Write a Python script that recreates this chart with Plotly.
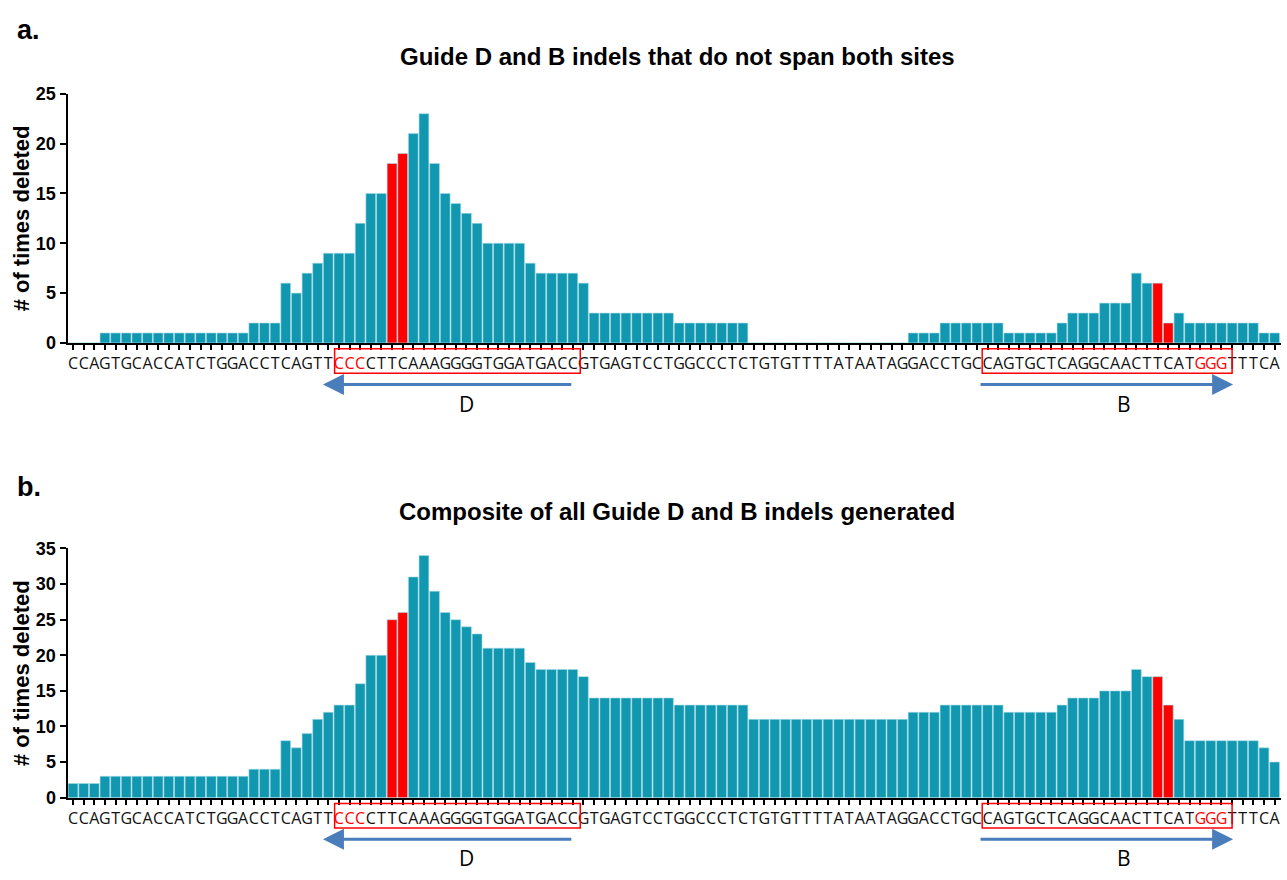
import plotly.graph_objects as go

# ---------------- data ----------------
sequence = "CCAGTGCACCATCTGGACCTCAGTTCCCCTTCAAAGGGGTGGATGACCGTGAGTCCTGGCCCTCTGTGTTTTATAATAGGACCTGCCAGTGCTCAGGCAACTTCATGGGTTTCA"

# deletions per base, panel a (indels that do not span both sites)
counts_a = ([0]*3 + [1]*14 + [2]*3 + [6, 5, 7, 8, 9, 9, 9, 12, 15, 15, 18, 19, 21, 23, 18, 15, 14, 13, 12]
            + [10]*4 + [8] + [7]*4 + [6] + [3]*8 + [2]*7 + [0]*15
            + [1]*3 + [2]*6 + [1]*5 + [2] + [3]*3 + [4]*3 + [7, 6, 6, 2, 3] + [2]*7 + [1]*2)

# deletions per base, panel b (composite of all indels)
counts_b = ([2]*3 + [3]*14 + [4]*3 + [8, 7, 9, 11, 12, 13, 13, 16, 20, 20, 25, 26, 31, 34, 29, 26, 25, 24, 23]
            + [21]*4 + [19] + [18]*4 + [17] + [14]*8 + [13]*7 + [11]*15
            + [12]*3 + [13]*6 + [12]*5 + [13] + [14]*3 + [15]*3 + [18, 17, 17, 13, 11] + [8]*7 + [7, 5])

cut_site_bases = [30, 31, 102, 103]          # bars flanking the Cas9 cut sites (red)
pam_bases = [25, 26, 27, 106, 107, 108]       # PAM letters shown in red
guide_boxes = [(24.6, 47.7), (85.5, 109.0)]   # boxed guide sequences (base index span)
guide_arrows = [("D", 47.0, 23.5, 37.0), ("B", 85.2, 109.1, 98.8)]  # label, tail, head, label x

titles = ["Guide D and B indels that do not span both sites",
          "Composite of all Guide D and B indels generated"]
panel_labels = ["a.", "b."]
y_max = [25, 35]

# ---------------- styling ----------------
W, H = 1287, 880
TEAL = "#1197b0"
RED = "#ff0000"
BLUE = "#4a7ebb"

def px(x):
    return x / W

def py(y):
    return 1 - y / H

x_idx = list(range(len(sequence)))
ticktext = [f"<span style='color:red'>{c}</span>" if i in pam_bases else c
            for i, c in enumerate(sequence)]
colors = [RED if i in cut_site_bases else TEAL for i in x_idx]

# pixel geometry of the two panels (top, bottom of plot area)
panels = [(85.7, 340.7), (551.0, 806.0)]
label_y = [20, 488]
x_dom = [px(67.5), px(1281)]

fig = go.Figure()
for k, counts in enumerate([counts_a, counts_b]):
    xa = "x" if k == 0 else "x2"
    ya = "y" if k == 0 else "y2"
    fig.add_trace(go.Bar(
        x=x_idx, y=counts, xaxis=xa, yaxis=ya,
        marker=dict(color=colors, line=dict(color="#a6dde8", width=0.6)),
        showlegend=False, hoverinfo="x+y",
    ))

layout = dict(
    width=W, height=H, margin=dict(l=0, r=0, t=0, b=0),
    paper_bgcolor="white", plot_bgcolor="white", bargap=0.08,
    font=dict(family="Liberation Sans, Arial, sans-serif", color="black"),
)
shapes, annotations = [], []
for k in range(2):
    top, bot = panels[k]
    sfx = "" if k == 0 else "2"
    layout["xaxis" + sfx] = dict(
        domain=x_dom, range=[-0.52, len(sequence) - 0.4], anchor="y" + sfx,
        tickmode="array", tickvals=x_idx, ticktext=ticktext, tickangle=0,
        ticks="outside", ticklen=5, tickwidth=1.5, tickcolor="black",
        showline=True, linecolor="black", linewidth=2, showgrid=False, zeroline=False,
        tickfont=dict(family="Open Sans, sans-serif", size=16, color="#111111"),
        ticklabelstandoff=0,
    )
    layout["yaxis" + sfx] = dict(
        domain=[py(bot), py(top)], range=[0, y_max[k]], anchor="x" + sfx,
        tickmode="linear", tick0=0, dtick=5,
        ticks="outside", ticklen=6, tickwidth=2, tickcolor="black",
        showline=True, linecolor="black", linewidth=2, showgrid=False, zeroline=False,
        tickfont=dict(size=18, color="black", weight="bold"),
    )
    # guide boxes
    for (x0, x1) in guide_boxes:
        shapes.append(dict(type="rect", xref="x" + sfx, yref="paper",
                           x0=x0, x1=x1, y0=py(bot + 31), y1=py(bot + 6),
                           line=dict(color=RED, width=1.5), fillcolor="rgba(0,0,0,0)"))
    # guide arrows and labels
    for (lab, tail, head, lx) in guide_arrows:
        annotations.append(dict(
            xref="x" + sfx, yref="paper", x=head, y=py(bot + 42.5),
            axref="x" + sfx, ayref="pixel", ax=tail, ay=0,
            showarrow=True, arrowhead=2, arrowsize=1.4, arrowwidth=3,
            arrowcolor=BLUE, text=""))
        annotations.append(dict(
            xref="x" + sfx, yref="paper", x=lx, y=py(bot + 62), showarrow=False,
            text=lab, font=dict(family="Open Sans, sans-serif", size=21, color="black"),
            xanchor="center", yanchor="middle"))
    # panel title
    annotations.append(dict(
        xref="paper", yref="paper", x=px(677), y=py(top - 38), showarrow=False,
        text=f"<b>{titles[k]}</b>", font=dict(size=24, color="black"),
        xanchor="center", yanchor="middle"))
    # panel letter
    annotations.append(dict(
        xref="paper", yref="paper", x=px(15), y=py(label_y[k]), showarrow=False,
        text=f"<b>{panel_labels[k]}</b>", font=dict(size=27, color="black"),
        xanchor="left", yanchor="middle"))
    # y-axis title
    annotations.append(dict(
        xref="paper", yref="paper", x=px(21), y=py((top + bot) / 2), showarrow=False,
        text="<b># of times deleted</b>", textangle=-90, font=dict(size=22, color="black"),
        xanchor="center", yanchor="middle"))

layout["shapes"] = shapes
layout["annotations"] = annotations
fig.update_layout(**layout)
fig.write_html("out.html")
